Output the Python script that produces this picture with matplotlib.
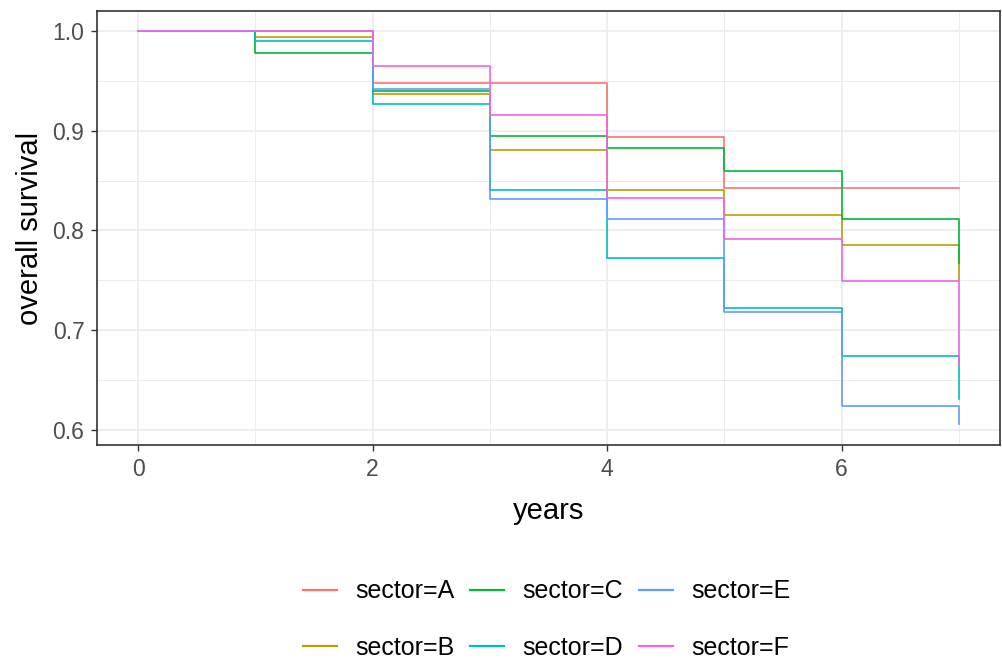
import matplotlib.pyplot as plt

plt.rcParams['font.family'] = ['Liberation Sans', 'DejaVu Sans']

# survival estimates at each year (step function, post)
years = [0, 1, 2, 3, 4, 5, 6, 7]
sector_a = [1.0, 1.0, 0.948, 0.948, 0.894, 0.843, 0.843, 0.843]
sector_b = [1.0, 0.994, 0.937, 0.881, 0.841, 0.816, 0.785, 0.750]
sector_c = [1.0, 0.978, 0.940, 0.895, 0.883, 0.860, 0.812, 0.767]
sector_d = [1.0, 0.990, 0.927, 0.841, 0.772, 0.722, 0.674, 0.631]
sector_e = [1.0, 1.0, 0.942, 0.832, 0.812, 0.718, 0.624, 0.606]
sector_f = [1.0, 1.0, 0.965, 0.916, 0.833, 0.791, 0.749, 0.665]

labels = ['sector=A', 'sector=B', 'sector=C', 'sector=D', 'sector=E', 'sector=F']
colors = ['#F8766D', '#B79F00', '#00BA38', '#00BFC4', '#619CFF', '#F564E3']
series = [sector_a, sector_b, sector_c, sector_d, sector_e, sector_f]

fig = plt.figure(figsize=(10.03, 6.62), dpi=100)
ax = fig.add_axes([97/1003, 1-445/662, (1000-97)/1003, (445-11)/662])

for vals, col, lab in zip(series, colors, labels):
    ax.step(years, vals, where='post', color=col, lw=1.2, label=lab)

ax.set_xlim(-0.35, 7.35)
ax.set_ylim(0.58525, 1.01975)
ax.set_xticks([0, 2, 4, 6])
ax.set_xticks([1, 3, 5, 7], minor=True)
ax.set_yticks([0.6, 0.7, 0.8, 0.9, 1.0])
ax.set_yticklabels(['0.6', '0.7', '0.8', '0.9', '1.0'])
ax.set_yticks([0.65, 0.75, 0.85, 0.95], minor=True)

ax.grid(which='major', color='#EBEBEB', lw=1.2)
ax.grid(which='minor', color='#EBEBEB', lw=0.7)
ax.set_axisbelow(True)
ax.tick_params(which='major', length=4, color='#333333', labelsize=16.5, labelcolor='#4D4D4D',
               width=1, pad=5)
ax.tick_params(which='minor', length=0)
for s in ax.spines.values():
    s.set_color('#333333')
    s.set_linewidth(1.2)

ax.set_xlabel('years', fontsize=21, labelpad=12)
ax.set_ylabel('overall survival', fontsize=21, labelpad=6)

leg = fig.legend(*ax.get_legend_handles_labels(), loc='center', bbox_to_anchor=(0.545, 0.064),
                 ncol=3, frameon=False, fontsize=18, handlelength=1.36, handletextpad=0.72,
                 columnspacing=0.64, labelspacing=1.3)
for h in leg.get_lines():
    h.set_linewidth(1.6)

fig.savefig('out.png', dpi=100)
